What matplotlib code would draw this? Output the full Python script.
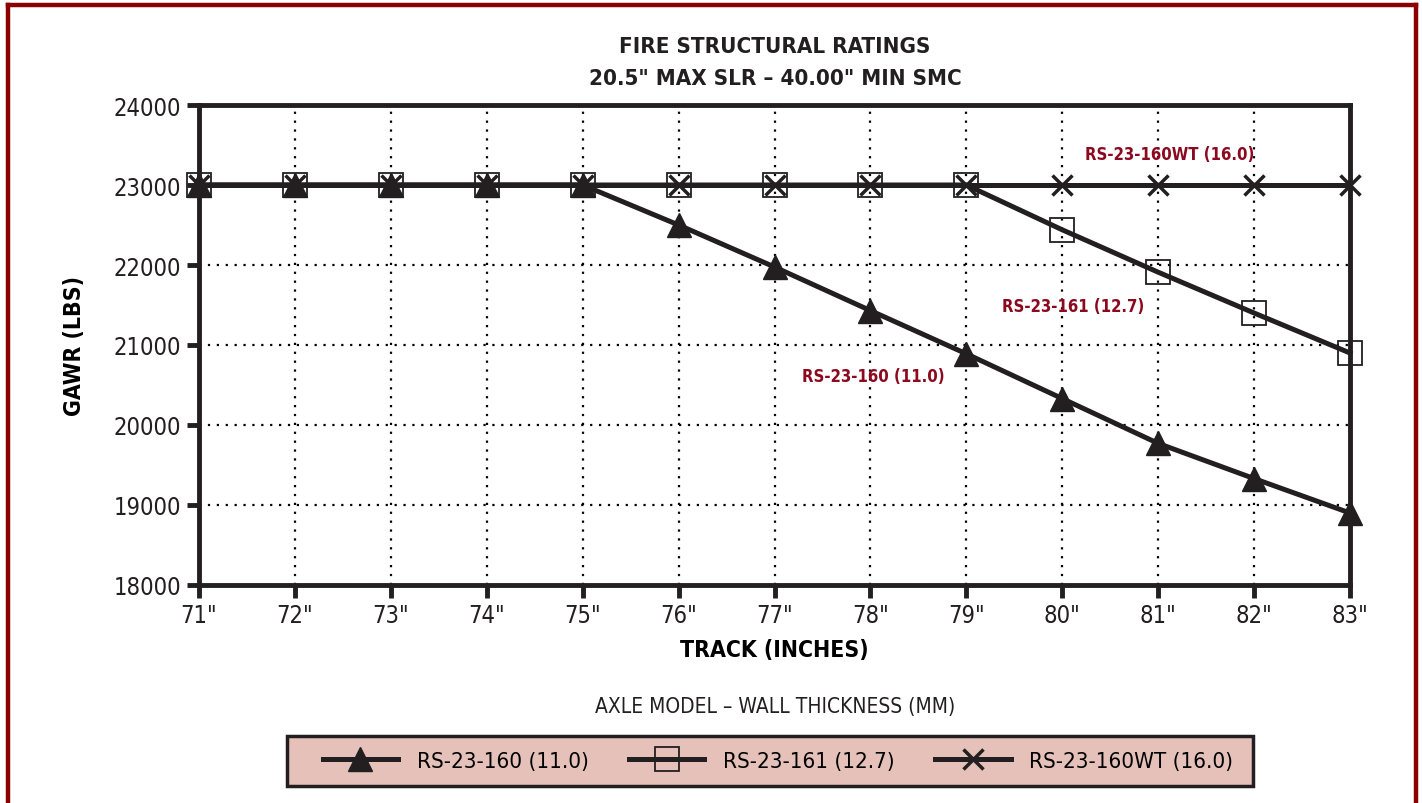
import matplotlib
matplotlib.use('Agg')
import matplotlib.pyplot as plt
from matplotlib.lines import Line2D
from matplotlib.patches import Rectangle

# DejaVu Sans Condensed is closest to the narrow face in the original
plt.rcParams['font.family'] = ['DejaVu Sans']
plt.rcParams['font.stretch'] = 'condensed'

# Data
track = [71, 72, 73, 74, 75, 76, 77, 78, 79, 80, 81, 82, 83]
tick_labels = ['71"', '72"', '73"', '74"', '75"', '76"', '77"', '78"', '79"', '80"', '81"', '82"', '83"']
rs160 = [23000, 23000, 23000, 23000, 23000, 22500, 21975, 21430, 20890, 20330, 19770, 19330, 18900]
rs161 = [23000, 23000, 23000, 23000, 23000, 23000, 23000, 23000, 23000, 22440, 21910, 21400, 20900]
rs160wt = [23000] * 13
series_names = ['RS-23-160 (11.0)', 'RS-23-161 (12.7)', 'RS-23-160WT (16.0)']

dark = '#231f20'
red = '#8b0a1f'

fig = plt.figure(figsize=(14.22, 8.04), dpi=100)
ax = fig.add_axes([199 / 1422, 1 - 586 / 804, (1350 - 199) / 1422, 480 / 804])

l2, = ax.plot(track, rs161, color=dark, lw=3.6, marker='s', ms=17, mfc='none',
              mec=dark, mew=1.3, label=series_names[1], zorder=3, clip_on=False)
l1, = ax.plot(track, rs160, color=dark, lw=3.6, marker='^', ms=17, mfc=dark,
              mec=dark, label=series_names[0], zorder=4, clip_on=False)
l3, = ax.plot(track, rs160wt, color=dark, lw=3.6, marker='x', ms=15, mew=2.5,
              mec=dark, label=series_names[2], zorder=5, clip_on=False)

ax.set_xlim(71, 83)
ax.set_ylim(18000, 24000)
ax.set_xticks(track)
ax.set_xticklabels(tick_labels)
ax.set_yticks(range(18000, 24001, 1000))
ax.grid(True, color='black', linestyle=(0, (1, 3)), linewidth=1.6)
ax.set_axisbelow(True)
for s in ax.spines.values():
    s.set_linewidth(3.5)
    s.set_color(dark)
ax.tick_params(direction='out', length=9, width=3.5, color=dark, labelsize=17,
               labelcolor='#231f20', pad=4)

ax.set_xlabel('TRACK (INCHES)', fontsize=16.5, fontweight='bold', labelpad=8)
ax.set_ylabel('GAWR (LBS)', fontsize=16.5, fontweight='bold', labelpad=20)

fig.text(0.545, 0.9415, 'FIRE STRUCTURAL RATINGS', ha='center', va='center',
         fontsize=16, fontweight='bold', color=dark)
fig.text(0.545, 0.902, '20.5" MAX SLR \u2013 40.00" MIN SMC', ha='center', va='center',
         fontsize=16, fontweight='bold', color=dark)

# in-plot series labels
ax.text(81.12, 23390, series_names[2], color=red, fontsize=12, fontweight='bold',
        ha='center', va='center')
ax.text(80.11, 21490, series_names[1], color=red, fontsize=12, fontweight='bold',
        ha='center', va='center')
ax.text(78.03, 20610, series_names[0], color=red, fontsize=12, fontweight='bold',
        ha='center', va='center')

# legend: title above a pink box
fig.text(775 / 1422, 1 - 707 / 804, 'AXLE MODEL \u2013 WALL THICKNESS (MM)', ha='center',
         va='center', fontsize=15, color=dark)
fig.add_artist(Rectangle((287 / 1422, 1 - 787 / 804), 966 / 1422, 50 / 804,
                         transform=fig.transFigure, facecolor='#e5c1b9',
                         edgecolor=dark, linewidth=2.5, zorder=1))
leg = fig.legend(handles=[l1, l2, l3], loc='center', ncol=3,
                 bbox_to_anchor=(778 / 1422, 1 - 762 / 804),
                 fontsize=16, frameon=False, handlelength=3.4,
                 handletextpad=0.85, columnspacing=1.8)
leg.set_zorder(2)

# outer dark red frame
for xs, ys in [([8 / 1422, 8 / 1422], [0, 1 - 6 / 804]),
               ([8 / 1422, 1416 / 1422], [1 - 6 / 804, 1 - 6 / 804]),
               ([1416 / 1422, 1416 / 1422], [1 - 6 / 804, 0])]:
    fig.add_artist(Line2D(xs, ys, transform=fig.transFigure, color='#8b0000', lw=3.2))

fig.savefig('out.png', dpi=100)
